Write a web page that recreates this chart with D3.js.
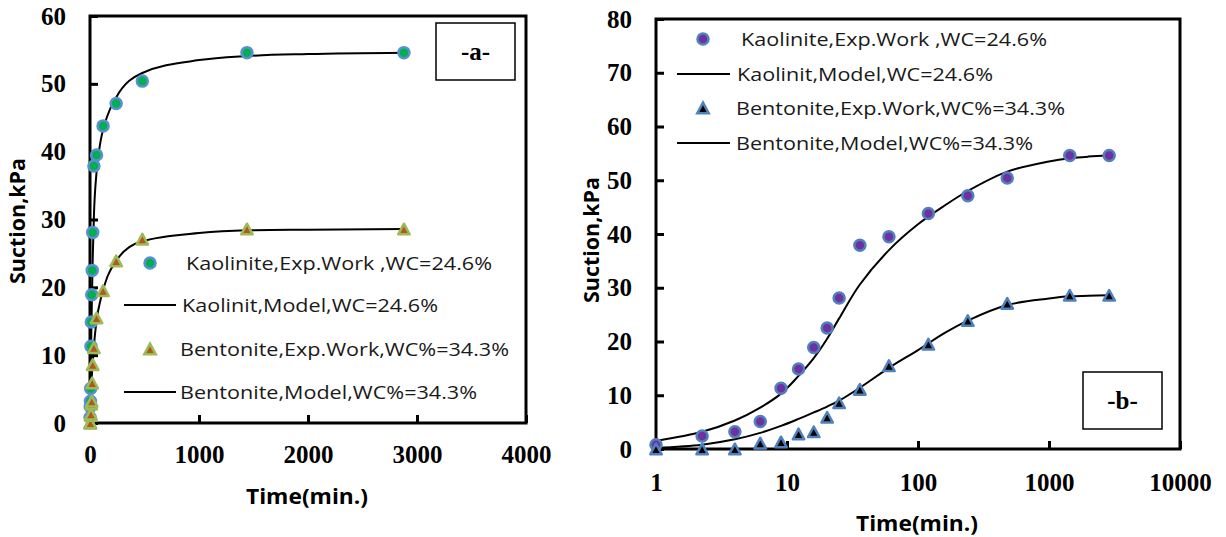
<!DOCTYPE html>
<html>
<head>
<meta charset="utf-8">
<script src="https://d3js.org/d3.v7.min.js"></script>
<style>
  body { margin: 0; background: #fff; }
  svg { display: block; }
  .tick line { stroke: #000; stroke-width: 3; }
</style>
</head>
<body>
<script>
// measured times (min) and suction (kPa)
var timeMin = [1, 2.25, 4, 6.25, 9, 12.25, 16, 20.25, 25, 36, 60, 120, 240, 480, 1440, 2880];
var kaoliniteExp = [0.8, 2.4, 3.2, 5.1, 11.3, 14.9, 18.9, 22.5, 28.1, 37.9, 39.5, 43.8, 47.1, 50.4, 54.6, 54.6];
var bentoniteExp = [0, 0, 0, 1.1, 1.3, 2.8, 3.2, 5.9, 8.6, 11.1, 15.5, 19.5, 23.9, 27.1, 28.6, 28.6];

// model curves
var modelTime = [1, 2.25, 4, 6.25, 9, 12.25, 16, 20.25, 25, 36, 60, 100, 160, 240, 480, 1000, 1440, 2000, 2880];
var kaoliniteModel = [1.5, 3.2, 5.3, 7.7, 10.3, 13.6, 16.9, 20.5, 24.3, 30.6, 37.0, 41.8, 45.3, 48.0, 51.6, 53.5, 54.1, 54.4, 54.6];
var bentoniteModel = [0.2, 0.8, 1.8, 3.0, 4.3, 5.6, 6.8, 7.9, 9.0, 11.4, 15.1, 18.4, 21.6, 23.9, 26.8, 28.0, 28.4, 28.5, 28.6];

var legendLabels = ["Kaolinite,Exp.Work ,WC=24.6%", "Kaolinit,Model,WC=24.6%",
                    "Bentonite,Exp.Work,WC%=34.3%", "Bentonite,Model,WC%=34.3%"];
var legendWidths = [306, 256, 329, 297];

var leftXTicks = [0, 1000, 2000, 3000, 4000];
var leftYTicks = [0, 10, 20, 30, 40, 50, 60];
var rightXTicks = [1, 10, 100, 1000, 10000];
var rightYTicks = [0, 10, 20, 30, 40, 50, 60, 70, 80];

var W = 1226, H = 537;
var svg = d3.select("body").append("svg").attr("width", W).attr("height", H);

function triPath(s) {
  return "M0," + (-s) + "L" + (s * 1.08) + "," + s + "L" + (-s * 1.08) + "," + s + "Z";
}

function panel(o) {
  var g = svg.append("g");
  var x = o.x, y = o.y;
  var x0 = x.range()[0], x1 = x.range()[1], yb = y.range()[0], yt = y.range()[1];

  // axes with inward ticks
  var xa = g.append("g").attr("transform", "translate(0," + yb + ")")
    .call(d3.axisBottom(x).tickValues(o.xTicks).tickFormat(d3.format("d"))
      .tickSizeInner(-8).tickSizeOuter(0).tickPadding(o.xPad));
  var ya = g.append("g").attr("transform", "translate(" + x0 + ",0)")
    .call(d3.axisLeft(y).tickValues(o.yTicks).tickSizeInner(-8).tickSizeOuter(0).tickPadding(24));
  [xa, ya].forEach(function (a) {
    a.select(".domain").remove();
    a.selectAll("text")
      .style("font-family", "'Liberation Serif'")
      .style("font-size", "25px").style("font-weight", "bold").style("fill", "#000");
  });

  g.append("rect").attr("x", x0).attr("y", yt).attr("width", x1 - x0).attr("height", yb - yt)
    .attr("fill", "none").attr("stroke", "#000").attr("stroke-width", 3);

  // titles
  g.append("text").attr("x", o.xTitle[0]).attr("y", o.xTitle[1]).attr("dy", "0.35em")
    .attr("text-anchor", "middle").attr("textLength", 122).attr("lengthAdjust", "spacingAndGlyphs")
    .style("font-family", "'Open Sans', sans-serif").style("font-weight", "bold").style("font-size", "22px")
    .text("Time(min.)");
  g.append("text").attr("transform", "translate(" + o.yTitle[0] + "," + o.yTitle[1] + ") rotate(-90)")
    .attr("dy", "0.35em").attr("text-anchor", "middle").attr("textLength", 126).attr("lengthAdjust", "spacingAndGlyphs")
    .style("font-family", "'Open Sans', sans-serif").style("font-weight", "bold").style("font-size", "21px")
    .text("Suction,kPa");

  // panel tag box
  g.append("rect").attr("x", o.tag[0]).attr("y", o.tag[1]).attr("width", 79).attr("height", 57)
    .attr("fill", "#fff").attr("stroke", "#000").attr("stroke-width", 1.5);
  g.append("text").attr("x", o.tag[0] + 39.5).attr("y", o.tag[1] + 28.5).attr("dy", "0.35em")
    .attr("text-anchor", "middle").style("font-family", "'Liberation Serif'")
    .style("font-weight", "bold").style("font-size", "25px").text(o.tagText);

  // model lines
  var line = d3.line().x(function (d) { return x(d[0]); }).y(function (d) { return y(d[1]); })
    .curve(o.curve);
  [kaoliniteModel, bentoniteModel].forEach(function (vals) {
    g.append("path").datum(modelTime.map(function (t, i) { return [t, vals[i]]; }))
      .attr("d", line).attr("fill", "none").attr("stroke", "#000").attr("stroke-width", 2);
  });

  // markers
  var kPts = timeMin.map(function (t, i) { return [t, kaoliniteExp[i]]; });
  var bPts = timeMin.map(function (t, i) { return [t, bentoniteExp[i]]; });
  g.selectAll(".kp").data(kPts).enter().append("circle")
    .attr("cx", function (d) { return x(d[0]); }).attr("cy", function (d) { return y(d[1]); })
    .attr("r", 5.5).attr("fill", o.kFill).attr("stroke", o.kStroke).attr("stroke-width", 2.5);
  g.selectAll(".bp").data(bPts).enter().append("path")
    .attr("transform", function (d) { return "translate(" + x(d[0]) + "," + y(d[1]) + ")"; })
    .attr("d", triPath(5.3)).attr("fill", o.bFill).attr("stroke", o.bStroke).attr("stroke-width", 2.5)
    .attr("stroke-linejoin", "round");

  // legend
  var L = o.legend;
  L.rows.forEach(function (ry, i) {
    if (i === 0) {
      g.append("circle").attr("cx", L.mx).attr("cy", ry).attr("r", 5.5)
        .attr("fill", o.kFill).attr("stroke", o.kStroke).attr("stroke-width", 2.5);
    } else if (i === 2) {
      g.append("path").attr("transform", "translate(" + L.mx + "," + ry + ")").attr("d", triPath(5.3))
        .attr("fill", o.bFill).attr("stroke", o.bStroke).attr("stroke-width", 2.5);
    } else {
      g.append("line").attr("x1", L.l0).attr("x2", L.l1).attr("y1", ry).attr("y2", ry)
        .attr("stroke", "#000").attr("stroke-width", 2);
    }
    g.append("text").attr("x", L.tx[i]).attr("y", ry).attr("dy", "0.36em")
      .attr("textLength", legendWidths[i]).attr("lengthAdjust", "spacingAndGlyphs")
      .style("font-family", "'Open Sans', sans-serif").style("font-size", "19px").style("fill", "#1a1a1a")
      .text(legendLabels[i]);
  });
}

panel({
  x: d3.scaleLinear().domain([0, 4000]).range([90, 526]),
  y: d3.scaleLinear().domain([0, 60]).range([423, 16]),
  xTicks: leftXTicks, yTicks: leftYTicks, xPad: 22,
  xTitle: [307, 496], yTitle: [18, 221],
  tag: [436, 23], tagText: "-a-", curve: d3.curveMonotoneX,
  kFill: "#00b050", kStroke: "#5b8fd4", bFill: "#b5561e", bStroke: "#9bbb59",
  legend: { rows: [263, 305, 349, 392], mx: 150, l0: 124, l1: 176, tx: [186, 182, 180, 180] }
});

panel({
  x: d3.scaleLog().domain([1, 10000]).range([656, 1180]),
  y: d3.scaleLinear().domain([0, 80]).range([449, 19]),
  xTicks: rightXTicks, yTicks: rightYTicks, xPad: 24,
  xTitle: [917, 523], yTitle: [592, 240],
  tag: [1083, 372], tagText: "-b-", curve: d3.curveCatmullRom.alpha(0.5),
  kFill: "#7030a0", kStroke: "#4f81bd", bFill: "#000", bStroke: "#4f81bd",
  legend: { rows: [39, 74, 108, 143], mx: 703, l0: 677, l1: 730, tx: [741, 737, 736, 736] }
});
</script>
</body>
</html>
